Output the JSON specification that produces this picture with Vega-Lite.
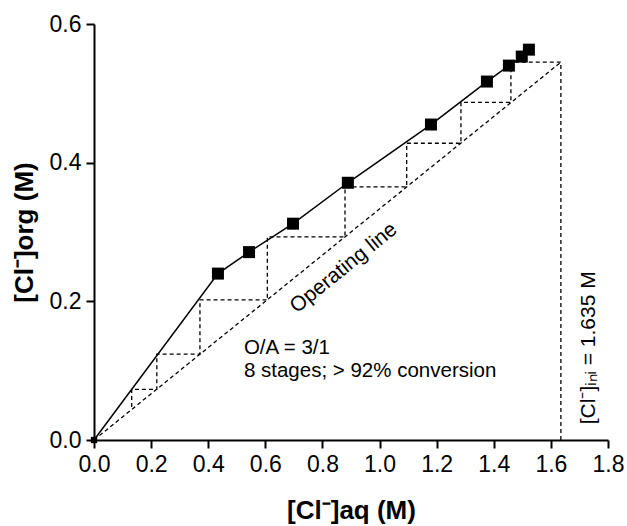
{
  "$schema": "https://vega.github.io/schema/vega-lite/v6.json",
  "width": 514,
  "height": 416,
  "autosize": {"type": "none"},
  "padding": {"left": 94, "top": 24, "right": 19, "bottom": 86},
  "background": "white",
  "config": {
    "view": {"stroke": null},
    "font": "Liberation Sans",
    "axis": {
      "grid": false,
      "domainColor": "black",
      "domainWidth": 2,
      "tickColor": "black",
      "tickWidth": 2,
      "tickSize": 8,
      "labelColor": "black",
      "labelFont": "Liberation Sans",
      "labelFontSize": 23,
      "labelFlush": false,
      "labelOverlap": false,
      "titleColor": "black",
      "titleFont": "Liberation Sans",
      "titleFontSize": 26,
      "titleFontWeight": "bold"
    }
  },
  "datasets": {
    "eq": [
      {"x": 0.0, "y": 0.0, "sq": "no"},
      {"x": 0.434, "y": 0.240, "sq": "yes"},
      {"x": 0.543, "y": 0.271, "sq": "yes"},
      {"x": 0.697, "y": 0.312, "sq": "yes"},
      {"x": 0.889, "y": 0.371, "sq": "yes"},
      {"x": 1.180, "y": 0.455, "sq": "yes"},
      {"x": 1.376, "y": 0.517, "sq": "yes"},
      {"x": 1.453, "y": 0.540, "sq": "yes"},
      {"x": 1.498, "y": 0.553, "sq": "yes"},
      {"x": 1.523, "y": 0.563, "sq": "yes"}
    ],
    "dashed": [
      {"s": "op", "o": 0, "x": 0.0, "y": 0.0},
      {"s": "op", "o": 1, "x": 1.635, "y": 0.545},
      {"s": "st", "o": 0, "x": 1.635, "y": 0.0},
      {"s": "st", "o": 1, "x": 1.635, "y": 0.545},
      {"s": "st", "o": 2, "x": 1.46, "y": 0.545},
      {"s": "st", "o": 3, "x": 1.46, "y": 0.487},
      {"s": "st", "o": 4, "x": 1.285, "y": 0.487},
      {"s": "st", "o": 5, "x": 1.285, "y": 0.428},
      {"s": "st", "o": 6, "x": 1.095, "y": 0.428},
      {"s": "st", "o": 7, "x": 1.095, "y": 0.365},
      {"s": "st", "o": 8, "x": 0.879, "y": 0.365},
      {"s": "st", "o": 9, "x": 0.879, "y": 0.293},
      {"s": "st", "o": 10, "x": 0.607, "y": 0.293},
      {"s": "st", "o": 11, "x": 0.607, "y": 0.202},
      {"s": "st", "o": 12, "x": 0.371, "y": 0.202},
      {"s": "st", "o": 13, "x": 0.371, "y": 0.124},
      {"s": "st", "o": 14, "x": 0.22, "y": 0.124},
      {"s": "st", "o": 15, "x": 0.22, "y": 0.073},
      {"s": "st", "o": 16, "x": 0.132, "y": 0.073},
      {"s": "st", "o": 17, "x": 0.132, "y": 0.044}
    ],
    "notes": [
      {"label": "O/A = 3/1", "x": 0.525, "y": 0.1235},
      {"label": "8 stages; > 92% conversion", "x": 0.525, "y": 0.0915}
    ]
  },
  "encoding": {
    "x": {
      "type": "quantitative",
      "scale": {"domain": [0, 1.8], "nice": false, "zero": false},
      "axis": {
        "values": [0, 0.2, 0.4, 0.6, 0.8, 1.0, 1.2, 1.4, 1.6, 1.8],
        "format": ".1f",
        "labelPadding": 5,
        "title": "[Cl⁻]aq (M)",
        "titlePadding": 21
      }
    },
    "y": {
      "type": "quantitative",
      "scale": {"domain": [0, 0.6], "nice": false, "zero": false},
      "axis": {
        "values": [0, 0.2, 0.4, 0.6],
        "format": ".1f",
        "labelPadding": 5,
        "title": "[Cl⁻]org (M)",
        "titlePadding": 12
      }
    }
  },
  "layer": [
    {
      "data": {"name": "dashed"},
      "mark": {"type": "line", "color": "black", "strokeWidth": 1.3, "strokeDash": [4, 3]},
      "encoding": {
        "x": {"field": "x", "type": "quantitative"},
        "y": {"field": "y", "type": "quantitative"},
        "detail": {"field": "s"},
        "order": {"field": "o", "type": "quantitative"}
      }
    },
    {
      "data": {"name": "eq"},
      "mark": {"type": "line", "color": "black", "strokeWidth": 1.5},
      "encoding": {
        "x": {"field": "x", "type": "quantitative"},
        "y": {"field": "y", "type": "quantitative"},
        "order": {"field": "x", "type": "quantitative"}
      }
    },
    {
      "data": {"name": "eq"},
      "transform": [{"filter": "datum.sq === 'yes'"}],
      "mark": {"type": "point", "shape": "square", "filled": true, "color": "black", "opacity": 1, "size": 144},
      "encoding": {
        "x": {"field": "x", "type": "quantitative"},
        "y": {"field": "y", "type": "quantitative"}
      }
    },
    {
      "data": {"name": "eq"},
      "transform": [{"filter": "datum.sq === 'no'"}],
      "mark": {"type": "point", "shape": "square", "filled": true, "color": "black", "opacity": 1, "size": 40, "clip": false},
      "encoding": {
        "x": {"field": "x", "type": "quantitative"},
        "y": {"field": "y", "type": "quantitative"}
      }
    },
    {
      "data": {"name": "notes"},
      "mark": {"type": "text", "align": "left", "baseline": "alphabetic", "fontSize": 20.5, "font": "Liberation Sans", "color": "black"},
      "encoding": {
        "x": {"field": "x", "type": "quantitative"},
        "y": {"field": "y", "type": "quantitative"},
        "text": {"field": "label"}
      }
    },
    {
      "data": {"values": [{"label": "Operating line", "x": 0.875, "y": 0.248}]},
      "mark": {"type": "text", "align": "center", "baseline": "middle", "angle": -39, "fontSize": 21, "font": "Liberation Sans", "color": "black"},
      "encoding": {
        "x": {"field": "x", "type": "quantitative"},
        "y": {"field": "y", "type": "quantitative"},
        "text": {"field": "label"}
      }
    },
    {
      "data": {"values": [{"label": "[Cl⁻]ᵢₙᵢ = 1.635 M", "x": 1.754, "y": 0.133}]},
      "mark": {"type": "text", "align": "center", "baseline": "alphabetic", "angle": -90, "fontSize": 21, "font": "Liberation Sans", "color": "black"},
      "encoding": {
        "x": {"field": "x", "type": "quantitative"},
        "y": {"field": "y", "type": "quantitative"},
        "text": {"field": "label"}
      }
    }
  ]
}
